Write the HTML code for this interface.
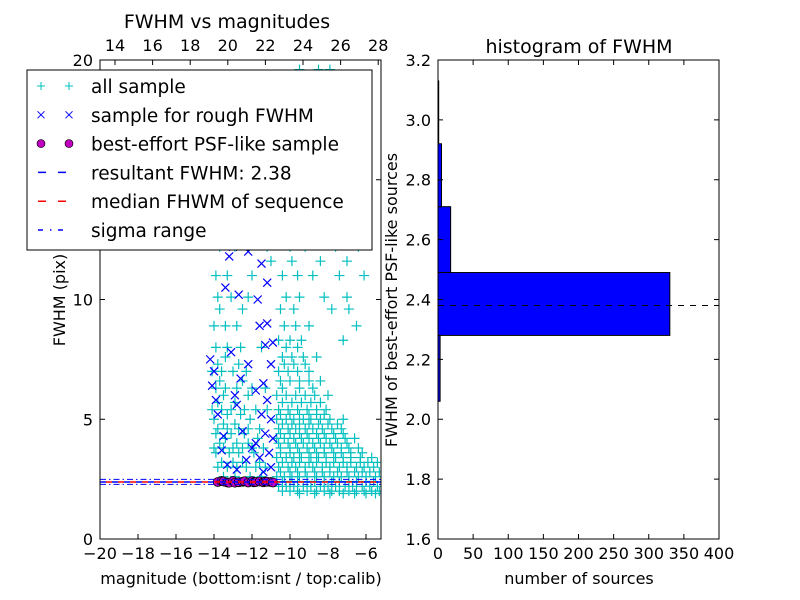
<!DOCTYPE html>
<html><head><meta charset="utf-8">
<style>
body{margin:0;background:#fff;}
svg{display:block;font-family:"DejaVu Sans","Liberation Sans",sans-serif;}
</style></head>
<body>
<svg id="fig" width="800" height="600" viewBox="0 0 800 600">
<rect width="800" height="600" fill="#fff"/>
<g id="left"></g>
<g id="right"></g>
</svg>
<script>
// ---- scatter data ----
const cyanRows = [
 [1.9,[-9.5,-8.7,-7.9,-7.2,-6.6,-6.0,-5.5]],
 [2.0,[-10.4,-10.0,-9.6,-9.1,-8.6,-8.2,-7.8,-7.4,-6.9,-6.5,-6.1,-5.7,-5.3]],
 [2.2,[-10.6,-10.2,-9.8,-9.3,-8.9,-8.4,-8.0,-7.6,-7.1,-6.7,-6.2,-5.8,-5.4]],
 [2.4,[-10.4,-10.0,-9.6,-9.1,-8.7,-8.2,-7.8,-7.4,-6.9,-6.5,-6.0,-5.6]],
 [2.6,[-10.7,-10.3,-9.9,-9.5,-9.1,-8.6,-8.2,-7.7,-7.3,-6.9,-6.4,-6.0,-5.5,-13.5,-12.9,-12.1,-11.5]],
 [2.8,[-10.5,-10.0,-9.6,-9.2,-8.7,-8.3,-7.9,-7.5,-7.0,-6.6,-6.2,-5.8,-5.3]],
 [3.0,[-10.6,-10.1,-9.7,-9.2,-8.8,-8.3,-7.9,-7.4,-7.0,-6.5,-6.1,-5.6,-13.8,-13.3,-12.8,-12.3,-11.8,-11.3]],
 [3.2,[-10.4,-9.9,-9.5,-9.0,-8.6,-8.1,-7.7,-7.2,-6.8,-6.3,-5.9,-5.4,-13.6,-13.0,-12.5,-11.6]],
 [3.4,[-10.7,-10.2,-9.8,-9.4,-8.9,-8.5,-8.1,-7.6,-7.2,-6.8,-6.3,-5.7]],
 [3.6,[-10.5,-10.0,-9.5,-9.0,-8.6,-8.2,-7.7,-7.3,-6.8,-6.2,-13.9,-13.2,-12.7,-11.9]],
 [3.8,[-10.5,-10.0,-9.6,-9.1,-8.7,-8.2,-7.8,-7.3,-6.9,-6.4,-14.0,-13.5,-13.0,-12.5,-12.0,-11.4]],
 [4.0,[-10.6,-10.1,-9.7,-9.3,-8.8,-8.4,-7.9,-7.5,-7.0,-13.7,-12.8,-12.2]],
 [4.2,[-10.7,-10.3,-9.8,-9.4,-9.0,-8.5,-8.1,-7.6,-7.1,-6.6,-13.4,-11.7]],
 [4.4,[-10.5,-10.0,-9.5,-9.1,-8.6,-8.2,-7.7,-7.2,-13.9,-13.1,-12.4]],
 [4.6,[-10.6,-10.1,-9.7,-9.2,-8.8,-8.3,-7.8,-7.3,-13.8,-13.3,-12.7,-12.2,-11.6]],
 [4.8,[-10.4,-9.9,-9.5,-9.0,-8.5,-8.0,-7.5,-13.5,-12.9]],
 [5.0,[-10.7,-10.2,-9.8,-9.3,-8.9,-8.4,-7.9,-7.2,-14.0,-12.1]],
 [5.2,[-10.5,-10.0,-9.5,-9.0,-8.6,-8.2,-13.3,-12.6]],
 [5.4,[-10.6,-10.1,-9.6,-9.1,-8.6,-8.1,-14.1,-13.6,-13.1,-12.4,-11.8,-11.2]],
 [5.7,[-10.4,-9.9,-9.4,-8.9,-8.4,-13.8,-12.9]],
 [6.0,[-10.7,-10.2,-9.7,-9.2,-8.7,-8.0,-13.5,-12.2]],
 [6.3,[-13.9,-13.4,-12.8,-12.0,-11.3,-10.4,-9.5,-8.8]],
 [6.6,[-10.5,-10.0,-9.5,-9.0,-8.4,-13.7,-12.5]],
 [7.0,[-10.6,-10.1,-9.6,-9.0,-14.1,-13.6,-13.0,-12.3]],
 [7.3,[-10.3,-9.8,-9.2,-13.8,-12.7]],
 [7.6,[-10.4,-9.9,-9.3,-8.6,-13.4]],
 [8.0,[-13.9,-13.3,-12.6,-11.5,-10.2,-9.6]],
 [8.3,[-10.6,-10.0,-9.4,-7.2]],
 [8.9,[-10.3,-9.7,-9.0,-14.0,-13.4,-12.8,-6.5]],
 [9.6,[-10.5,-9.8,-13.7,-12.5,-7.8,-6.9]],
 [10.1,[-10.2,-9.5,-8.2,-13.8,-13.1,-12.2,-7.0]],
 [11.0,[-10.4,-9.6,-8.8,-13.9,-13.3,-12.0,-7.4,-6.1]],
 [11.6,[-11.0,-9.9,-8.4,-7.0]],
 [12.2,[-10.0,-9.2,-7.6,-13.7,-12.9,-11.2,-6.4]],
 [12.8,[-11.7,-9.5,-8.0]],
 [13.5,[-10.3,-12.6,-13.5,-8.9,-7.3]],
 [14.5,[-9.0,-13.8,-11.6,-10.0,-8.0]],
 [15.2,[-12.8,-9.4,-7.7]],
 [16.0,[-10.5,-12.3,-13.4,-8.6]],
 [16.8,[-11.2,-9.8,-7.5]],
 [17.5,[-8.3,-13.6,-10.8]],
 [18.5,[-12.0,-9.1,-7.0]],
 [19.6,[-9.5,-8.5,-7.9]]
];
const blueMag = [-14.2,-14.0,-14.1,-13.9,-13.8,-13.5,-13.6,-13.3,-12.8,-12.3,-12.0,-12.5,-12.8,-12.6,-12.2,-11.8,-11.5,-11.3,-11.1,-11.0,-11.4,-11.6,-11.8,-11.2,-11.4,-11.0,-11.3,-11.6,-11.2,-10.9,-11.0,-10.9,-11.7,-11.2,-13.2,-13.0,-12.2,-13.4,-12.7,-12.9,-13.1,-11.5];
const blueFwhm = [7.5,7.0,6.4,5.8,5.2,4.3,3.7,3.1,2.9,3.3,3.8,4.5,5.6,6.7,7.3,6.2,5.2,4.4,3.6,3.0,2.8,3.4,4.0,5.8,6.5,7.3,8.1,8.9,9.0,8.2,5.0,4.2,10.0,10.7,11.8,12.2,12.0,10.5,10.2,6.0,7.8,11.5];
const psfMag = [-13.8,-13.6,-13.5,-13.3,-13.2,-13.0,-12.9,-12.7,-12.5,-12.4,-12.2,-12.0,-11.9,-11.8,-11.6,-11.4,-11.3,-11.2,-11.0,-10.9];
const psfFwhm = [2.38,2.42,2.40,2.36,2.35,2.42,2.35,2.37,2.39,2.41,2.36,2.41,2.37,2.38,2.40,2.37,2.40,2.39,2.38,2.36];
const resultFwhm = 2.38, medianFwhm = 2.38, sigmaLo = 2.28, sigmaHi = 2.49;
const xTicks = [-20,-18,-16,-14,-12,-10,-8,-6];
const xTopTicks = [14,16,18,20,22,24,26,28];
const yTicks = [0,5,10,15,20];
// ---- histogram data ----
const binEdges = [2.06,2.28,2.49,2.71,2.92,3.13];
const binCounts = [3,330,18,5,1];
const hxTicks = [0,50,100,150,200,250,300,350,400];
const hyTicks = [1.6,1.8,2.0,2.2,2.4,2.6,2.8,3.0,3.2];

const NS="http://www.w3.org/2000/svg";
function mk(parent,tag,attrs){const e=document.createElementNS(NS,tag);for(const k in attrs)e.setAttribute(k,attrs[k]);parent.appendChild(e);return e;}
function txt(parent,x,y,s,size,anchor,extra){const t=mk(parent,'text',Object.assign({x:x,y:y,'font-size':size,'text-anchor':anchor||'middle',fill:'#000'},extra||{}));t.textContent=s;return t;}

const L={x0:100,x1:381,y0:539,y1:60};
const lx=m=>L.x0+(m+20)*19;
const ly=f=>L.y0-f*23.95;
const ltx=v=>115+(v-14)*18.8;
const left=document.getElementById('left');
const clip=mk(left,'clipPath',{id:'lc'});mk(clip,'rect',{x:L.x0,y:L.y1,width:L.x1-L.x0,height:L.y0-L.y1});
const pts=mk(left,'g',{'clip-path':'url(#lc)'});
cyanRows.forEach(r=>r[1].forEach(m=>{
 const x=lx(m),y=ly(r[0]);
 const p=mk(pts,'path',{d:`M${x-5},${y}h10M${x},${y-5}v10`,stroke:'#00bfbf','stroke-width':1.2});
 
 
}));
blueMag.forEach((m,i)=>{
 const x=lx(m),y=ly(blueFwhm[i]);
 const p=mk(pts,'path',{d:`M${x-4},${y-4}l8,8M${x-4},${y+4}l8,-8`,stroke:'#0000ff','stroke-width':1.2});
 
 
});
psfMag.forEach((m,i)=>{
 const c=mk(pts,'circle',{cx:lx(m),cy:ly(psfFwhm[i]),r:4.5,fill:'#bf00bf',stroke:'#000','stroke-width':0.8});
 
 
});
const l1=mk(pts,'line',{x1:L.x0,x2:L.x1,y1:ly(sigmaLo),y2:ly(sigmaLo),stroke:'#0000ff','stroke-dasharray':'6,3,1.5,3'});

const l2=mk(pts,'line',{x1:L.x0,x2:L.x1,y1:ly(sigmaHi),y2:ly(sigmaHi),stroke:'#0000ff','stroke-dasharray':'6,3,1.5,3'});

const l3=mk(pts,'line',{x1:L.x0,x2:L.x1,y1:ly(resultFwhm),y2:ly(resultFwhm),stroke:'#0000ff','stroke-dasharray':'6,6','stroke-width':1.5});

const l4=mk(pts,'line',{x1:L.x0,x2:L.x1,y1:ly(medianFwhm),y2:ly(medianFwhm),stroke:'#ff0000','stroke-dasharray':'6,6','stroke-dashoffset':6,'stroke-width':1.5});

mk(left,'rect',{x:L.x0,y:L.y1,width:L.x1-L.x0,height:L.y0-L.y1,fill:'none',stroke:'#000'});
xTicks.forEach(v=>{const x=lx(v);mk(left,'path',{d:`M${x},${L.y0}v-5`,stroke:'#000'});txt(left,x,L.y0+20,'\u2212'+(-v),16);});
xTopTicks.forEach(v=>{const x=ltx(v);mk(left,'path',{d:`M${x},${L.y1}v5`,stroke:'#000'});txt(left,x,L.y1-9,String(v),16);});
yTicks.forEach(v=>{const y=ly(v);mk(left,'path',{d:`M${L.x0},${y}h5M${L.x1},${y}h-5`,stroke:'#000'});txt(left,L.x0-7,y+6,String(v),16,'end');});
txt(left,227,28,'FWHM vs magnitudes',19);
txt(left,241,584,'magnitude (bottom:isnt / top:calib)',16);
txt(left,65,300,'FWHM (pix)',16,'middle',{transform:'rotate(-90 65 300)'});
const lg=mk(left,'g',{});
mk(lg,'rect',{x:27,y:70,width:345,height:180,fill:'#fff',stroke:'#000'});
const labels=['all sample','sample for rough FWHM','best-effort PSF-like sample','resultant FWHM: 2.38','median FHWM of sequence','sigma range'];
labels.forEach((s,i)=>{
 const y=86+i*28.8;
 if(i===0)[41,69].forEach(x=>mk(lg,'path',{d:`M${x-4},${y}h8M${x},${y-4}v8`,stroke:'#00bfbf'}));
 if(i===1)[41,69].forEach(x=>mk(lg,'path',{d:`M${x-3.5},${y-3.5}l7,7M${x-3.5},${y+3.5}l7,-7`,stroke:'#0000ff'}));
 if(i===2)[41,69].forEach(x=>mk(lg,'circle',{cx:x,cy:y,r:4,fill:'#bf00bf',stroke:'#000','stroke-width':0.6}));
 if(i===3)mk(lg,'path',{d:`M38,${y}h8M58,${y}h8`,stroke:'#0000ff','stroke-width':1.5});
 if(i===4)mk(lg,'path',{d:`M38,${y}h8M58,${y}h8`,stroke:'#ff0000','stroke-width':1.5});
 if(i===5)mk(lg,'path',{d:`M38,${y}h5M50,${y}h1.5M58,${y}h5`,stroke:'#0000ff','stroke-width':1.5});
 txt(lg,91,y+7,s,18.5,'start');
});
const R={x0:438,x1:719,y0:539,y1:60};
const hx=v=>R.x0+v*0.7025;
const hy=v=>R.y0-(v-1.6)*299.4;
const right=document.getElementById('right');
binCounts.forEach((c,i)=>{
 const r=mk(right,'rect',{x:hx(0),y:hy(binEdges[i+1]),width:hx(c)-hx(0),height:hy(binEdges[i])-hy(binEdges[i+1]),fill:'#0000ff',stroke:'#000','stroke-width':1});
 
 
});
const hl=mk(right,'line',{x1:R.x0,x2:R.x1,y1:hy(resultFwhm),y2:hy(resultFwhm),stroke:'#000','stroke-dasharray':'6,6'});

mk(right,'rect',{x:R.x0,y:R.y1,width:R.x1-R.x0,height:R.y0-R.y1,fill:'none',stroke:'#000'});
hxTicks.forEach(v=>{const x=hx(v);mk(right,'path',{d:`M${x},${R.y0}v-5M${x},${R.y1}v5`,stroke:'#000'});txt(right,x,R.y0+20,String(v),16);});
hyTicks.forEach(v=>{const y=hy(v);mk(right,'path',{d:`M${R.x0},${y}h5M${R.x1},${y}h-5`,stroke:'#000'});txt(right,R.x0-7,y+6,v.toFixed(1),16,'end');});
txt(right,579,53,'histogram of FWHM',19);
txt(right,579,584,'number of sources',16);
txt(right,397,300,'FWHM of best-effort PSF-like sources',16,'middle',{transform:'rotate(-90 397 300)'});
</script>
</body></html>
